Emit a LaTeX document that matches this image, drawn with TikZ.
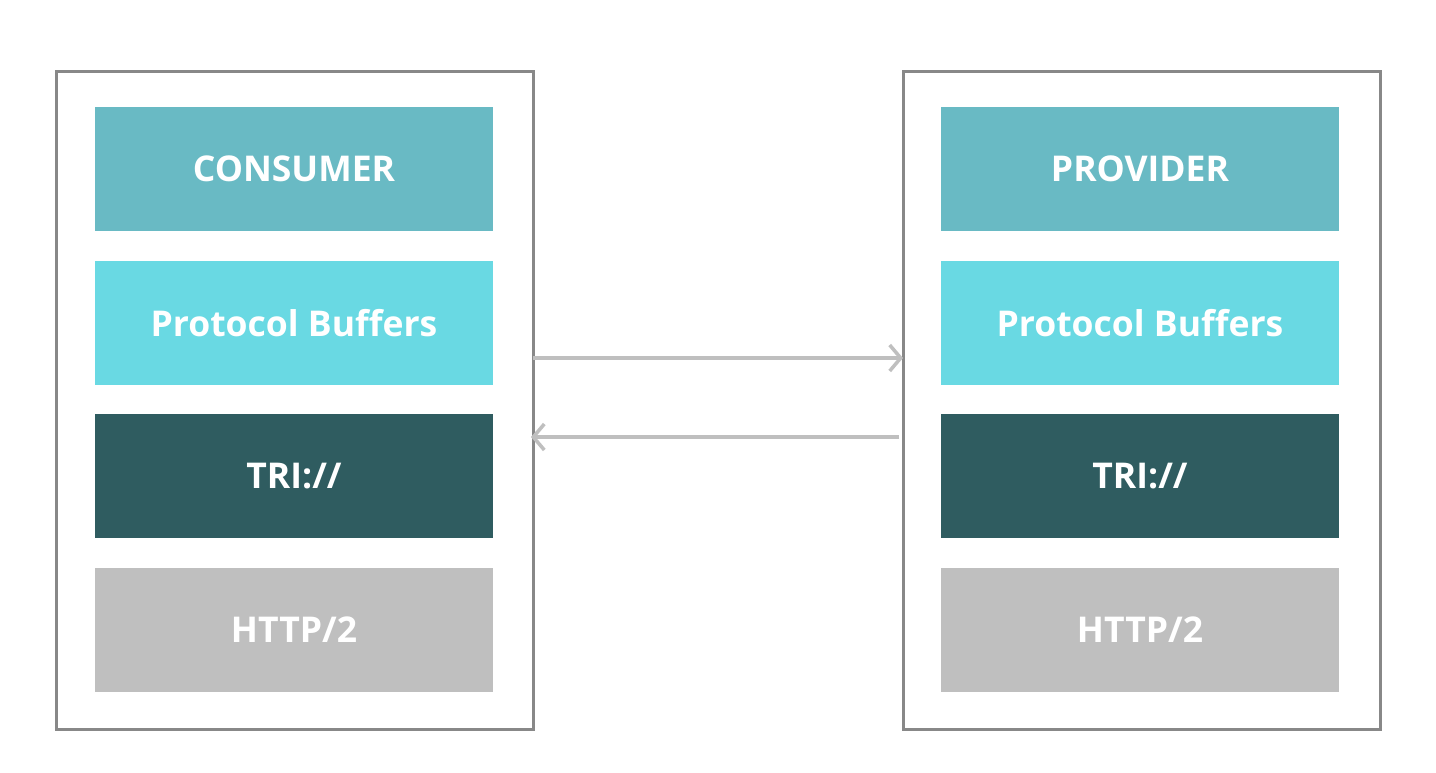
\documentclass[tikz,border=0pt]{standalone}
\usepackage{fontspec}
\setmainfont{Open Sans}
\usetikzlibrary{arrows.meta}
\definecolor{frame}{HTML}{888888}
\definecolor{c1}{HTML}{69BAC4}
\definecolor{c2}{HTML}{69D9E3}
\definecolor{c3}{HTML}{2F5C60}
\definecolor{c4}{HTML}{BFBFBF}
\begin{document}
\begin{tikzpicture}[x=1pt,y=-1pt,
  outer/.style={draw=frame,line width=3pt,fill=white},
  layer/.style={inner sep=0pt,outer sep=0pt,text=white,minimum width=398pt,minimum height=124pt,font=\bfseries\fontsize{35.5}{38}\selectfont},
  link/.style={draw=c4,line width=3.5pt,-{Straight Barb[length=11pt,width=26pt,line width=3.5pt]}}]
\useasboundingbox (0,0) rectangle (1436,772);
\fill[white] (0,0) rectangle (1436,772);
% outer frames
\draw[outer] (56,71) rectangle (533,729);
\draw[outer] (903,71) rectangle (1380,729);
\coordinate (lA) at (533,358);
\coordinate (rA) at (903,358);
\coordinate (lB) at (531,437);
\coordinate (rB) at (899,437);
% left layers
\node[layer,fill=c1] (cons) at (294,169) {CONSUMER};
\node[layer,fill=c2] (pbl) at (294,323) {Protocol Buffers};
\node[layer,fill=c3] (tril) at (294,476) {TRI://};
\node[layer,fill=c4] (httpl) at (294,630) {HTTP/2};
% right layers
\node[layer,fill=c1] (prov) at (1140,169) {PROVIDER};
\node[layer,fill=c2] (pbr) at (1140,323) {Protocol Buffers};
\node[layer,fill=c3] (trir) at (1140,476) {TRI://};
\node[layer,fill=c4] (httpr) at (1140,630) {HTTP/2};
% arrows
\draw[link] (lA) -- (rA);
\draw[link] (rB) -- (lB);
\end{tikzpicture}
\end{document}
